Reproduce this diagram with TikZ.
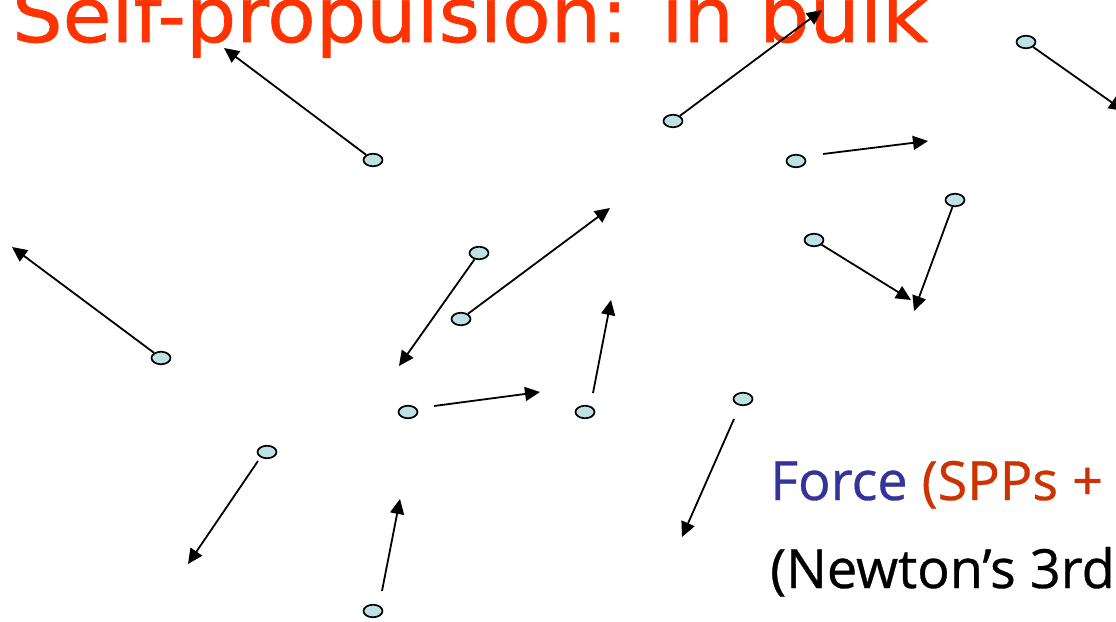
\documentclass[tikz,border=0pt]{standalone}
\usepackage{fontspec}
\setmainfont{Open Sans}[FakeBold=0.6]
\newfontfamily\titlefont{DejaVu Sans}[FakeBold=0.8]
\usetikzlibrary{arrows.meta,shapes.geometric}
\definecolor{pfill}{RGB}{190,226,228}
\definecolor{titlered}{RGB}{255,51,0}
\definecolor{forceblue}{RGB}{51,51,153}
\definecolor{sppred}{RGB}{204,51,0}
\begin{document}
\begin{tikzpicture}[x=1pt,y=-1pt,
  particle/.style={ellipse,draw,fill=pfill,line width=1.7pt,minimum width=19pt,minimum height=12.5pt,inner sep=0pt},
  vel/.style={line width=1.8pt,-{Triangle[length=15pt,width=14pt]}},
  bigtext/.style={anchor=base west,inner sep=0pt}]
\useasboundingbox (0,0) rectangle (1116,621);
\clip (0,0) rectangle (1116,621);
\fill[white] (0,0) rectangle (1116,621);

\node[bigtext,text=titlered,font=\titlefont\fontsize{76}{84}\selectfont] (title) at (12,42) {\scalebox{1.045}[1]{Self-propulsion: in bulk}};
\node[bigtext,font=\fontsize{54}{60}\selectfont] (force) at (770,500) {\textcolor{forceblue}{Force} \textcolor{sppred}{(SPPs +}};
\node[bigtext,font=\fontsize{54}{60}\selectfont] (newton) at (770,588) {(Newton’s 3rd};

% particles
\node[particle] (p1) at (373,160) {};
\node[particle] (p2) at (673,121) {};
\node[particle] (p3) at (1026,42) {};
\node[particle] (p4) at (796,161) {};
\node[particle] (p5) at (955,200) {};
\node[particle] (p6) at (814,240) {};
\node[particle] (p7) at (479,253) {};
\node[particle] (p8) at (461,319) {};
\node[particle] (p9) at (161,358) {};
\node[particle] (p10) at (408,412) {};
\node[particle] (p11) at (585,412) {};
\node[particle] (p12) at (743,399) {};
\node[particle] (p13) at (267,452) {};
\node[particle] (p14) at (373,611) {};

% arrow tips and detached starts
\coordinate (t1) at (224,48);
\coordinate (t2) at (822,10);
\coordinate (t3) at (1124,111);
\coordinate (s4) at (823,154);
\coordinate (t4) at (928,141);
\coordinate (t5) at (914,311);
\coordinate (t6) at (911,300);
\coordinate (t7) at (399,366);
\coordinate (t8) at (610,208);
\coordinate (t9) at (12,247);
\coordinate (s10) at (434,406);
\coordinate (t10) at (540,392);
\coordinate (s11) at (593,393);
\coordinate (t11) at (611,300);
\coordinate (s12) at (734,419);
\coordinate (t12) at (682,537);
\coordinate (s13) at (258,461);
\coordinate (t13) at (188,564);
\coordinate (s14) at (382,591);
\coordinate (t14) at (400,499);

\draw[vel] (p1) -- (t1);
\draw[vel] (p2) -- (t2);
\draw[vel] (p3) -- (t3);
\draw[vel] (s4) -- (t4);
\draw[vel] (p5) -- (t5);
\draw[vel] (p6) -- (t6);
\draw[vel] (p7) -- (t7);
\draw[vel] (p8) -- (t8);
\draw[vel] (p9) -- (t9);
\draw[vel] (s10) -- (t10);
\draw[vel] (s11) -- (t11);
\draw[vel] (s12) -- (t12);
\draw[vel] (s13) -- (t13);
\draw[vel] (s14) -- (t14);
\end{tikzpicture}
\end{document}
